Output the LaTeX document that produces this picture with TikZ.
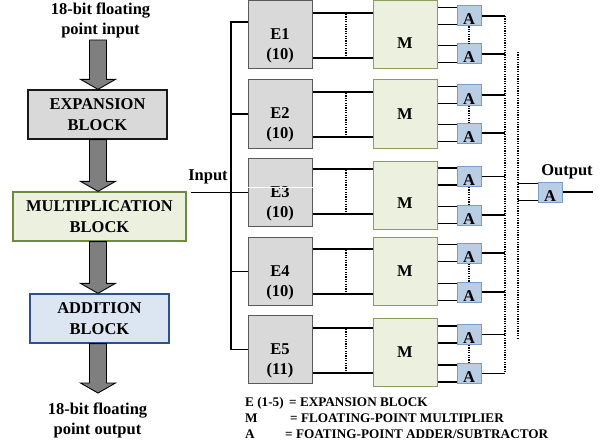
\documentclass[tikz,border=0pt]{standalone}
\usepackage{fontspec}
\setmainfont{Liberation Serif}
\usetikzlibrary{calc}
\definecolor{egray}{HTML}{D9D9D9}
\definecolor{eedge}{HTML}{595959}
\definecolor{mfill}{HTML}{EBF1DE}
\definecolor{medge}{HTML}{8C9E5E}
\definecolor{mbedge}{HTML}{6E8B3D}
\definecolor{afill}{HTML}{B9CDE5}
\definecolor{aedge}{HTML}{7A9CCB}
\definecolor{addfill}{HTML}{DCE6F2}
\definecolor{addedge}{HTML}{2F528F}
\definecolor{arrgray}{HTML}{7F7F7F}
\newcommand\fatarrow[3]{\path[fatarr] let \p1=(#2), \p2=(#3) in
  (#1pt-8.5pt,\y1) -- (#1pt+8.5pt,\y1) -- (#1pt+8.5pt,\y2+10pt) -- (#1pt+17.5pt,\y2+10pt)
  -- (#1pt,\y2) -- (#1pt-17.5pt,\y2+10pt) -- (#1pt-8.5pt,\y2+10pt) -- cycle;}
\begin{document}
\begin{tikzpicture}[x=1pt,y=-1pt,
  font=\fontsize{16.5}{20}\selectfont\bfseries,
  fatarr/.style={fill=arrgray,draw=black,line width=0.9pt,line join=miter},
  bigbox/.style={draw,line width=1.3pt,minimum height=49pt,inner sep=0pt,align=center,font=\fontsize{16.5}{21}\selectfont\bfseries},
  ebox/.style={draw=eedge,fill=egray,line width=1pt,minimum width=64pt,minimum height=68pt,inner sep=0pt},
  mbox/.style={draw=medge,fill=mfill,line width=1pt,minimum width=64pt,minimum height=68pt,inner sep=0pt},
  abox/.style={draw=aedge,fill=afill,line width=1pt,minimum width=24pt,minimum height=20pt,inner sep=0pt,
     label={[anchor=base,yshift=1.5pt,inner sep=0pt]south:A}},
  elab/.style={align=center,yshift=-11pt,inner sep=0pt},
  wire/.style={line width=1.8pt},
  dots/.style={line width=1.6pt,dash pattern=on 1.2pt off 1.2pt},
  legend/.style={anchor=base west,inner sep=0pt,font=\fontsize{13.2}{16}\selectfont\bfseries}]
\useasboundingbox (0,0) rectangle (608,444);

% ---------- left flow ----------
\node[align=center,inner sep=0pt] (tin) at (100.5,20) {18-bit floating\\point input};
\node[bigbox,fill=egray,draw=black!90,minimum width=139pt] (exp) at (97.5,114.5) {EXPANSION\\BLOCK};
\node[bigbox,fill=mfill,draw=mbedge,minimum width=173pt] (mul) at (99.5,216.5) {MULTIPLICATION\\BLOCK};
\node[bigbox,fill=addfill,draw=addedge,minimum width=139pt] (add) at (99.5,318.5) {ADDITION\\BLOCK};
\node[align=center,inner sep=0pt] (tout) at (97.5,420) {18-bit floating\\point output};
\coordinate (tinb) at (98,40);
\coordinate (toutt) at (98,393);
\fatarrow{98}{tinb}{exp.north}
\fatarrow{98}{exp.south}{mul.north}
\fatarrow{98}{mul.south}{add.north}
\fatarrow{98}{add.south}{toutt}

% ---------- E blocks ----------
\node[ebox,label={[elab]center:{E1\\(10)}}] (e1) at (280,35) {};
\node[ebox,label={[elab]center:{E2\\(10)}}] (e2) at (280,114) {};
\node[ebox,label={[elab]center:{E3\\(10)}}] (e3) at (280,192.5) {};
\node[ebox,label={[elab]center:{E4\\(10)}}] (e4) at (280,271.5) {};
\node[ebox,label={[elab]center:{E5\\(11)}}] (e5) at (280,349.5) {};
\draw[white,line width=0.8pt] ([yshift=5.5pt]e3.west) -- ([yshift=5.5pt]e3.east);

% ---------- M blocks ----------
\node[mbox,label={[yshift=-8pt]center:M}] (m1) at (405,35) {};
\node[mbox,label={center:M}] (m2) at (405,114) {};
\node[mbox,label={[yshift=-8pt]center:M}] (m3) at (405,195.5) {};
\node[mbox,label={center:M}] (m4) at (405,271.5) {};
\node[mbox,label={center:M}] (m5) at (405,352.5) {};

% ---------- A blocks ----------
\foreach \yy [count=\i] in {16,54,95,133,176.5,215,253,292,334.5,373.5}
  \node[abox] (a\i) at (469,\yy) {};
\node[abox,label={[xshift=17pt,yshift=-1pt]above:Output}] (ao) at (550,192) {};

% ---------- input bus ----------
\coordinate (bus) at (231,0);
\coordinate (inp) at (191,192.5);
\node[inner sep=0pt] (inlab) at (208,177) {Input};
\draw[wire] (inp) -- (e3.west);
\draw[wire] ([yshift=13pt]e1.west) coordinate (b1) -- (b1 -| bus) coordinate (bt) -- (bt |- e5.west) -- (e5.west);
\draw[wire] (e2.west) -- (e2.west -| bus);
\draw[wire] (e4.west) -- (e4.west -| bus);

% ---------- E to M ----------
\foreach \k/\c in {1/35.5,2/114.5,3/191.5,4/271.5,5/350.5}{
  \draw[wire] (e\k.east |- 0,\c-22.5) -- (m\k.west |- 0,\c-22.5);
  \draw[wire] (e\k.east |- 0,\c+22.5) -- (m\k.west |- 0,\c+22.5);
  \draw[dots] (346,\c-21.5) -- (346,\c+21.5);
}

% ---------- M to A ----------
\foreach \i/\m in {1/1,2/1,3/2,4/2,5/3,6/3,7/4,8/4,9/5,10/5}{
  \draw[wire] ([yshift=8.5pt]a\i.west) coordinate (t) -- (t -| m\m.east);
  \draw[wire] ([yshift=-8.5pt]a\i.west) coordinate (t) -- (t -| m\m.east);
}
\foreach \i/\j in {1/2,3/4,5/6,7/8,9/10}
  \draw[dots] (a\i.south) -- (a\j.north);

% ---------- A outputs and collectors ----------
\coordinate (col) at (505,0);
\coordinate (col2) at (518,0);
\foreach \i in {1,...,10}
  \draw[wire] (a\i.east) -- (a\i.east -| col);
\draw[dots] (a1.east -| col) -- (a10.east -| col);
\draw[dots] (col2 |- 0,52) -- (col2 |- 0,338);
\draw[wire] ([yshift=8.5pt]ao.west) coordinate (t) -- (t -| col2);
\draw[wire] ([yshift=-8.5pt]ao.west) coordinate (t) -- (t -| col2);
\coordinate (outend) at (593,192);
\draw[wire] (ao.east) -- (outend);

% ---------- legend ----------
\node[legend] (leg1) at (245,406) {\makebox[44pt][l]{E (1-5)}= EXPANSION BLOCK};
\node[legend] (leg2) at (245,422) {\makebox[45pt][l]{M}= FLOATING-POINT MULTIPLIER};
\node[legend] (leg3) at (245,438) {\makebox[40pt][l]{A}= FOATING-POINT ADDER/SUBTRACTOR};
\end{tikzpicture}
\end{document}
